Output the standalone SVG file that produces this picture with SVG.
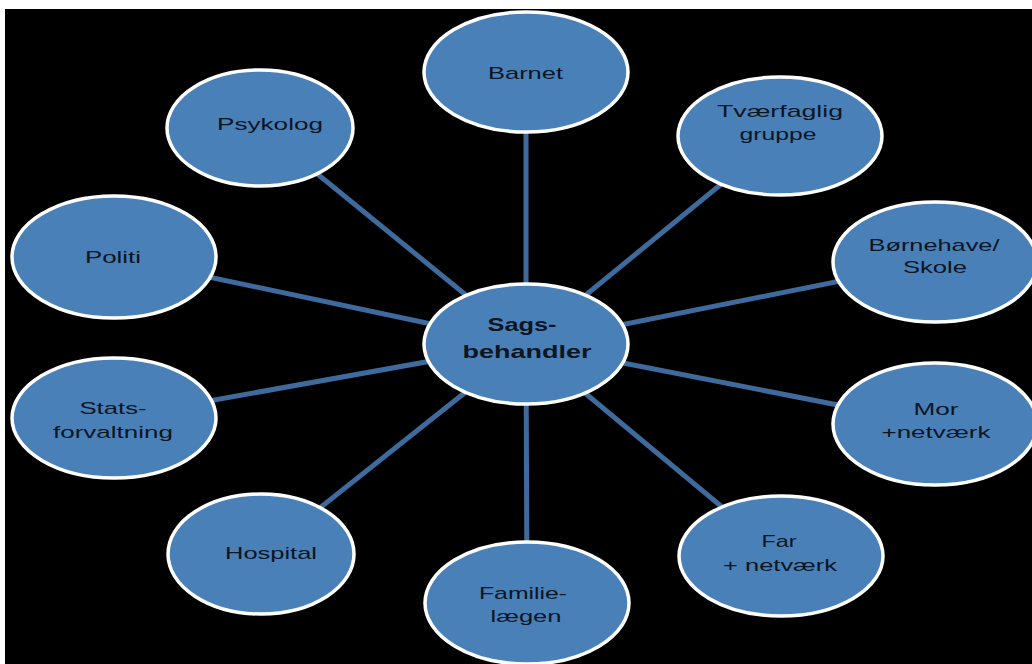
<svg xmlns="http://www.w3.org/2000/svg" width="1032" height="664" viewBox="0 0 1032 664">
<style>
.n{fill:#4a80b8;stroke:#ffffff;stroke-width:3.5}
.t{font-family:"Liberation Sans",Arial,sans-serif;font-size:17px;fill:#0c1522;text-anchor:middle}
.b{font-weight:bold;font-size:19px}
.c{stroke:#3e6a9d;stroke-width:5;fill:none}
</style>
<rect x="0" y="0" width="1032" height="664" fill="#ffffff"/>
<rect x="5" y="9" width="1027" height="655" fill="#000000"/>
<g id="connectors">
<line class="c" x1="526" y1="344" x2="526" y2="72"/>
<line class="c" x1="526" y1="344" x2="261" y2="128"/>
<line class="c" x1="526" y1="344" x2="780" y2="136"/>
<line class="c" x1="526" y1="344" x2="114" y2="257"/>
<line class="c" x1="526" y1="344" x2="935" y2="262"/>
<line class="c" x1="526" y1="344" x2="114" y2="418"/>
<line class="c" x1="526" y1="344" x2="935" y2="424"/>
<line class="c" x1="526" y1="344" x2="262" y2="554"/>
<line class="c" x1="526" y1="344" x2="781" y2="556"/>
<line class="c" x1="526" y1="344" x2="527" y2="603"/>
</g>
<g id="barnet"><ellipse class="n" cx="526" cy="72" rx="102" ry="60"/>
<text class="t" x="525.5" y="79" textLength="75" lengthAdjust="spacingAndGlyphs">Barnet</text></g>
<g id="psykolog"><ellipse class="n" cx="260" cy="128" rx="93" ry="58"/>
<text class="t" x="270" y="130" textLength="106" lengthAdjust="spacingAndGlyphs">Psykolog</text></g>
<g id="tvaerfaglig"><ellipse class="n" cx="780" cy="136" rx="102" ry="59"/>
<text class="t" x="780" y="117" textLength="126" lengthAdjust="spacingAndGlyphs">Tværfaglig</text>
<text class="t" x="778" y="140" textLength="77" lengthAdjust="spacingAndGlyphs">gruppe</text></g>
<g id="politi"><ellipse class="n" cx="114" cy="257" rx="102" ry="61"/>
<text class="t" x="113" y="263" textLength="56" lengthAdjust="spacingAndGlyphs">Politi</text></g>
<g id="bornehave"><ellipse class="n" cx="935" cy="262" rx="102" ry="60"/>
<text class="t" x="934" y="251" textLength="131" lengthAdjust="spacingAndGlyphs">Børnehave/</text>
<text class="t" x="935" y="273" textLength="64" lengthAdjust="spacingAndGlyphs">Skole</text></g>
<g id="statsforvaltning"><ellipse class="n" cx="114" cy="418" rx="102" ry="60"/>
<text class="t" x="113" y="414" textLength="67" lengthAdjust="spacingAndGlyphs">Stats-</text>
<text class="t" x="113" y="438" textLength="120" lengthAdjust="spacingAndGlyphs">forvaltning</text></g>
<g id="mor"><ellipse class="n" cx="935" cy="424" rx="102" ry="61"/>
<text class="t" x="936" y="415" textLength="45" lengthAdjust="spacingAndGlyphs">Mor</text>
<text class="t" x="936" y="438" textLength="109" lengthAdjust="spacingAndGlyphs">+netværk</text></g>
<g id="hospital"><ellipse class="n" cx="261" cy="554" rx="93" ry="60"/>
<text class="t" x="271" y="559" textLength="92" lengthAdjust="spacingAndGlyphs">Hospital</text></g>
<g id="far"><ellipse class="n" cx="781" cy="556" rx="102" ry="60"/>
<text class="t" x="779" y="547" textLength="35" lengthAdjust="spacingAndGlyphs">Far</text>
<text class="t" x="780" y="571" textLength="114" lengthAdjust="spacingAndGlyphs">+ netværk</text></g>
<g id="familielaegen"><ellipse class="n" cx="527" cy="603" rx="102" ry="61"/>
<text class="t" x="523" y="599" textLength="88" lengthAdjust="spacingAndGlyphs">Familie-</text>
<text class="t" x="526" y="622" textLength="71" lengthAdjust="spacingAndGlyphs">lægen</text></g>
<g id="sagsbehandler"><ellipse class="n" cx="526" cy="344" rx="102" ry="60"/>
<text class="t b" x="522" y="331" textLength="69" lengthAdjust="spacingAndGlyphs">Sags-</text>
<text class="t b" x="527" y="358" textLength="129" lengthAdjust="spacingAndGlyphs">behandler</text></g>
</svg>
